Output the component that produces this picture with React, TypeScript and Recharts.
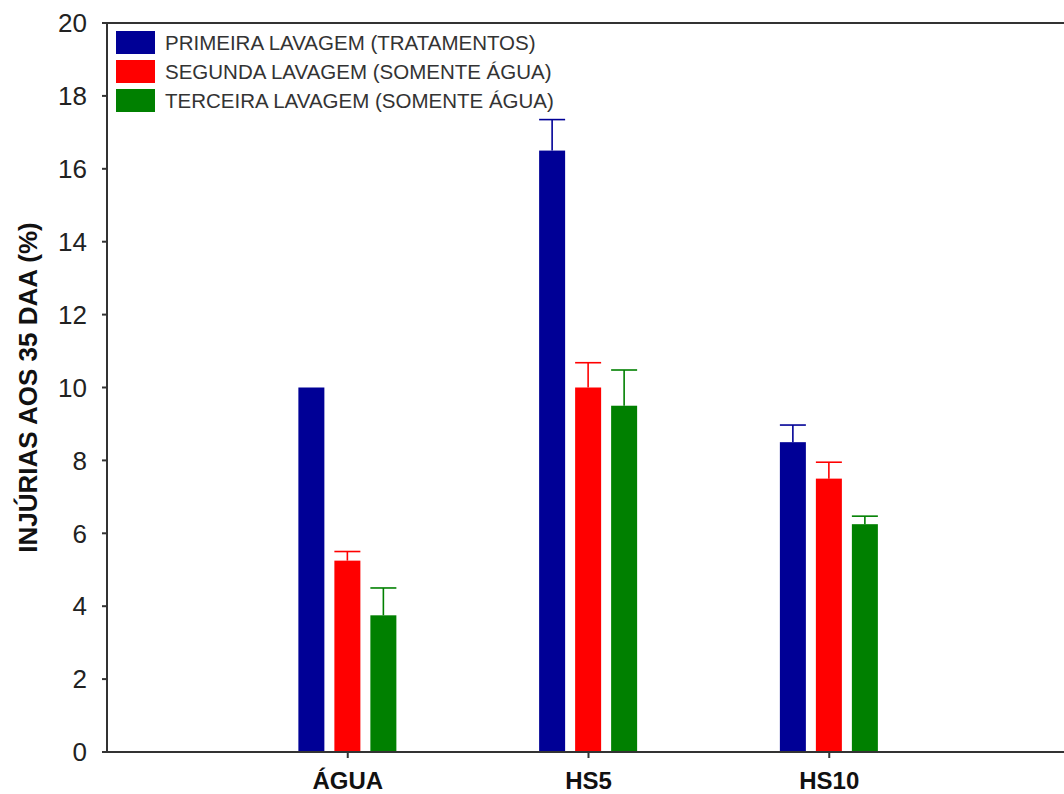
import { BarChart, Bar, XAxis, YAxis, ReferenceLine } from 'recharts';

const categories = ['ÁGUA', 'HS5', 'HS10'];
const positions = [1, 2, 3];
const primeira = [10, 16.5, 8.5];
const primeiraErr = [0, 0.85, 0.47];
const segunda = [5.25, 10, 7.5];
const segundaErr = [0.25, 0.68, 0.45];
const terceira = [3.75, 9.5, 6.25];
const terceiraErr = [0.75, 0.98, 0.22];
const yTicks = [0, 2, 4, 6, 8, 10, 12, 14, 16, 18, 20];

const SERIES = [
    { key: 'primeira', errKey: 'primeiraErr', name: 'PRIMEIRA LAVAGEM (TRATAMENTOS)', color: '#000096' },
    { key: 'segunda', errKey: 'segundaErr', name: 'SEGUNDA LAVAGEM (SOMENTE ÁGUA)', color: '#ff0000' },
    { key: 'terceira', errKey: 'terceiraErr', name: 'TERCEIRA LAVAGEM (SOMENTE ÁGUA)', color: '#008000' },
];

const data = positions.map((pos, i) => ({
    pos,
    name: categories[i],
    primeira: primeira[i],
    primeiraErr: primeiraErr[i],
    segunda: segunda[i],
    segundaErr: segundaErr[i],
    terceira: terceira[i],
    terceiraErr: terceiraErr[i],
}));

const FONT = '"Liberation Sans", Arial, sans-serif';
const AXIS = '#333333';

// bar with a one-sided (upward) error bar, scaled from the bar's own height
const makeShape = (errKey: string, color: string) => (props: any) => {
    const { x, y, width, height, value, payload } = props;
    const v = Array.isArray(value) ? value[1] - value[0] : value;
    const err = payload[errKey] || 0;
    const ppu = v ? height / v : 0;
    const top = y - err * ppu;
    return (
        <g>
            <rect x={x} y={y} width={width} height={height} fill={color} />
            {err > 0 && (
                <g stroke={color} strokeWidth={1.6}>
                    <line x1={x + width / 2} x2={x + width / 2} y1={y} y2={top} />
                    <line x1={x} x2={x + width} y1={top} y2={top} />
                </g>
            )}
        </g>
    );
};

export default function App() {
    return (
        <div style={{ position: 'absolute', left: 0, top: 0, width: 1064, height: 794, overflow: 'hidden', background: '#fff' }}>
            <BarChart
                width={1080}
                height={794}
                data={data}
                margin={{ top: 23, right: 10, left: 0, bottom: 0 }}
                barSize={26}
                barGap={10}
            >
                <XAxis
                    dataKey="pos"
                    type="number"
                    domain={[0, 4]}
                    ticks={positions}
                    tickFormatter={(v: number) => categories[positions.indexOf(v)] ?? ''}
                    height={42}
                    tickSize={6}
                    tickMargin={14}
                    stroke={AXIS}
                    strokeWidth={2}
                    tick={{ fill: '#111', fontSize: 24, fontWeight: 'bold', fontFamily: FONT }}
                />
                <YAxis
                    domain={[0, 20]}
                    ticks={yTicks}
                    width={107}
                    tickSize={5}
                    tickMargin={15}
                    stroke={AXIS}
                    strokeWidth={2}
                    tick={{ fill: '#222', fontSize: 26, fontFamily: FONT }}
                    label={{
                        value: 'INJÚRIAS AOS 35 DAA (%)',
                        angle: -90,
                        position: 'insideLeft',
                        offset: 28,
                        style: { textAnchor: 'middle', fontSize: 26, fontWeight: 'bold', fill: '#111', fontFamily: FONT },
                    }}
                />
                <ReferenceLine y={20} stroke={AXIS} strokeWidth={2} />
                {SERIES.map((s) => (
                    <Bar
                        key={s.key}
                        dataKey={s.key}
                        name={s.name}
                        fill={s.color}
                        isAnimationActive={false}
                        shape={makeShape(s.errKey, s.color)}
                    />
                ))}
            </BarChart>
            <div style={{ position: 'absolute', left: 116, top: 28, fontFamily: FONT }}>
                {SERIES.map((s) => (
                    <div key={s.key} style={{ display: 'flex', alignItems: 'center', height: 29 }}>
                        <div style={{ width: 39, height: 23, background: s.color, marginRight: 10 }} />
                        <span style={{ fontSize: 20.5, color: '#333' }}>{s.name}</span>
                    </div>
                ))}
            </div>
        </div>
    );
}
